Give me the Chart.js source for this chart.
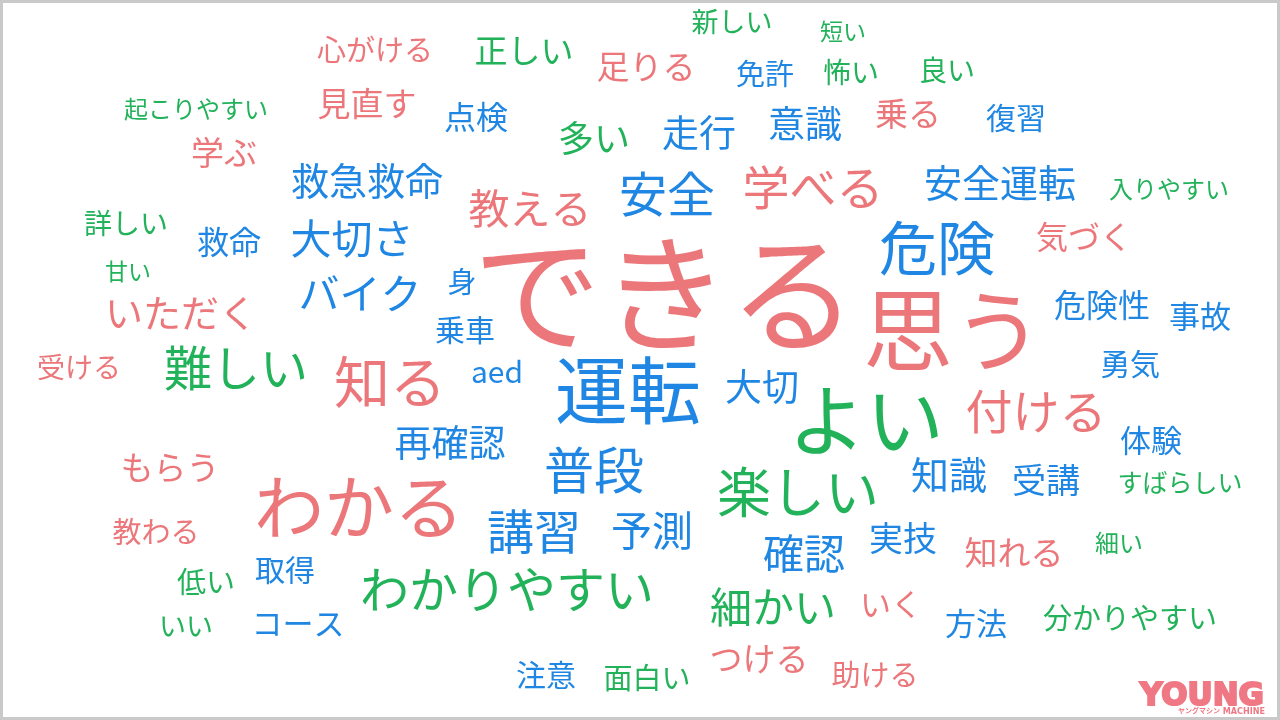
<!DOCTYPE html>
<html lang="ja">
<head>
<meta charset="utf-8">
<title>ワードクラウド</title>
<script src="https://cdn.jsdelivr.net/npm/chart.js@4.4.1/dist/chart.umd.min.js"></script>
<style>
    html, body { margin: 0; padding: 0; background: #fff; }
    #wrap { width: 1280px; height: 720px; position: relative; }
</style>
</head>
<body>
<div id="wrap"><canvas id="cloud"></canvas></div>
<script>
// ============================================================================
// Data
// ============================================================================

const words = [
    '新しい', '短い', '心がける', '正しい', '足りる', '免許', '怖い', '良い',
    '起こりやすい', '見直す', '点検', '多い', '走行', '意識', '乗る', '復習',
    '学ぶ', '救急救命', '教える', '安全', '学べる', '安全運転', '入りやすい',
    '詳しい', '救命', '大切さ', '危険', '気づく', '甘い', 'バイク', '身',
    'できる', '思う', '危険性', '事故', 'いただく', '乗車', '受ける', '難しい',
    '知る', 'aed', '運転', '大切', 'よい', '付ける', '勇気', '体験', '再確認',
    'もらう', '普段', 'わかる', '講習', '予測', '楽しい', '知識', '受講',
    'すばらしい', '教わる', '確認', '実技', '知れる', '細い', '低い', '取得',
    'わかりやすい', '細かい', 'いく', '方法', '分かりやすい', 'いい', 'コース',
    '注意', '面白い', 'つける', '助ける'
];

// part of speech: n = 名詞, v = 動詞, a = 形容詞
const kinds = [
    'a', 'a', 'v', 'a', 'v', 'n', 'a', 'a',
    'a', 'v', 'n', 'a', 'n', 'n', 'v', 'n',
    'v', 'n', 'v', 'n', 'v', 'n', 'a',
    'a', 'n', 'n', 'n', 'v', 'a', 'n', 'n',
    'v', 'v', 'n', 'n', 'v', 'n', 'v', 'a',
    'v', 'n', 'n', 'n', 'a', 'v', 'n', 'n', 'n',
    'v', 'n', 'v', 'n', 'n', 'a', 'n', 'n',
    'a', 'v', 'n', 'n', 'v', 'a', 'a', 'n',
    'a', 'a', 'v', 'n', 'a', 'a', 'n',
    'n', 'a', 'v', 'v'
];

// word weight (score)
const scores = [
    27, 23, 29, 33, 33, 29, 28, 28,
    24, 33, 32, 36, 37, 37, 33, 30,
    33, 38, 41, 48, 47, 38, 24,
    28, 32, 41, 58, 32, 23, 41, 29,
    128, 90, 32, 31, 38, 30, 28, 48,
    56, 30, 73, 37, 78, 47, 30, 31, 37,
    33, 50, 70, 47, 41, 54, 38, 34,
    25, 29, 41, 34, 33, 24, 29, 30,
    49, 42, 31, 31, 29, 27, 31,
    30, 29, 33, 29
];

// layout coordinates of each word
const posX = [
    732, 843, 375, 524, 646, 765, 851, 947,
    196, 367, 476, 594, 699, 805, 908, 1016,
    224, 367, 530, 667, 813, 1000, 1169,
    126, 229, 352, 937, 1084, 128, 360, 462,
    665, 953, 1102, 1200, 181, 465, 79, 236,
    390, 497, 628, 762, 866, 1036, 1130, 1151, 450,
    170, 594, 359, 534, 652, 798, 949, 1046,
    1180, 156, 804, 903, 1014, 1119, 206, 285,
    507, 773, 891, 976, 1130, 186, 298,
    546, 647, 759, 875
];

const posY = [
    22, 31, 50, 50, 66, 74, 72, 70,
    109, 103, 117, 138, 133, 124, 113, 118,
    152, 181, 208, 194, 187, 183, 189,
    223, 242, 238, 248, 237, 271, 293, 282,
    293, 330, 305, 316, 313, 330, 367, 368,
    382, 372, 390, 387, 420, 411, 364, 440, 443,
    467, 470, 507, 531, 530, 492, 475, 480,
    482, 532, 553, 538, 552, 543, 582, 570,
    589, 607, 604, 623, 618, 626, 623,
    675, 678, 658, 675
];

// ============================================================================
// Styles
// ============================================================================

const kindColors = {
    n: '#1f87e3',
    v: '#ec777b',
    a: '#22b25a'
};

const FONT_FAMILY = '"Noto Sans CJK JP", "Noto Sans", sans-serif';

// ============================================================================
// Plugins
// ============================================================================

/**
 * Draw each point as a word, sized by its score
 */
const wordCloudPlugin = {
    id: 'wordCloud',
    afterDatasetsDraw(chart) {
        const ctx = chart.ctx;
        const meta = chart.getDatasetMeta(0);
        const points = chart.data.datasets[0].data;
        ctx.save();
        ctx.textAlign = 'center';
        ctx.textBaseline = 'middle';
        meta.data.forEach(function(el, i) {
            const p = points[i];
            ctx.font = '400 ' + p.score + 'px ' + FONT_FAMILY;
            ctx.fillStyle = kindColors[p.kind];
            ctx.fillText(p.word, el.x, el.y);
        });
        ctx.restore();
    }
};

/**
 * Frame and logo
 */
const framePlugin = {
    id: 'frame',
    afterDraw(chart) {
        const ctx = chart.ctx;
        const w = chart.width;
        const h = chart.height;
        ctx.save();
        ctx.strokeStyle = '#c9c9c9';
        ctx.lineWidth = 3;
        ctx.strokeRect(1.5, 1.5, w - 3, h - 3);

        // logo: stretch the heavy word to the logo width
        ctx.fillStyle = '#ef7884';
        ctx.strokeStyle = '#ef7884';
        ctx.textBaseline = 'alphabetic';
        ctx.textAlign = 'left';
        ctx.font = 'bold 30px "DejaVu Sans", sans-serif';
        const tw = ctx.measureText('YOUNG').width;
        ctx.save();
        ctx.translate(1140, 705);
        ctx.scale(124 / tw, 1.05);
        ctx.lineWidth = 2;
        ctx.fillText('YOUNG', 0, 0);
        ctx.strokeText('YOUNG', 0, 0);
        ctx.restore();

        ctx.textAlign = 'right';
        ctx.font = 'bold 9px "DejaVu Sans Condensed", sans-serif';
        ctx.fillText('MACHINE', 1265, 714);
        ctx.font = 'bold 7px "Noto Sans CJK JP", sans-serif';
        ctx.fillText('ヤングマシン', 1220, 713);
        ctx.restore();
    }
};

// ============================================================================
// Chart
// ============================================================================

const points = words.map(function(word, i) {
    return { x: posX[i], y: posY[i], word: word, score: scores[i], kind: kinds[i] };
});

document.addEventListener('DOMContentLoaded', function() {
    const canvas = document.getElementById('cloud');
    new Chart(canvas, {
        type: 'scatter',
        data: {
            datasets: [{
                label: 'words',
                data: points,
                pointRadius: 0,
                pointHoverRadius: 0
            }]
        },
        options: {
            responsive: true,
            maintainAspectRatio: false,
            animation: false,
            layout: { padding: 0 },
            plugins: {
                legend: { display: false },
                tooltip: { enabled: false }
            },
            scales: {
                x: { type: 'linear', min: 0, max: 1280, display: false },
                y: { type: 'linear', min: 0, max: 720, reverse: true, display: false }
            }
        },
        plugins: [wordCloudPlugin, framePlugin]
    });
});
</script>
</body>
</html>
